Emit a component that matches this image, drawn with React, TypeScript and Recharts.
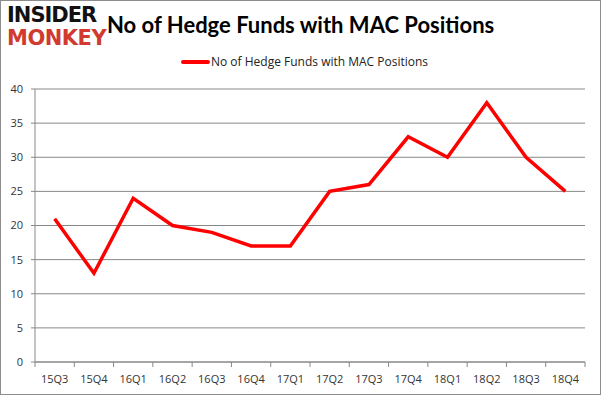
import React from "react";
import { LineChart, Line, XAxis, YAxis, CartesianGrid } from "recharts";

const categories = ["15Q3","15Q4","16Q1","16Q2","16Q3","16Q4","17Q1","17Q2","17Q3","17Q4","18Q1","18Q2","18Q3","18Q4"];
const funds = [21,13,24,20,19,17,17,25,26,33,30,38,30,25];
const yTicks = [0,5,10,15,20,25,30,35,40];
const seriesName = "No of Hedge Funds with MAC Positions";
const title = "No of Hedge Funds with MAC Positions";

const data = categories.map((c, i) => ({ q: c, v: funds[i] }));

const W = 601, H = 395;
const M = { top: 89, right: 16, bottom: 8, left: 5 };
const YW = 30;
const plotW = W - M.left - M.right - YW;
const step = plotW / categories.length;

const XTick = (props: any) => {
  const { x, y, payload, index } = props;
  const top = y - 13;
  return (
    <g>
      <line x1={x - step / 2} y1={top} x2={x - step / 2} y2={top + 5} stroke="#888" />
      {index === categories.length - 1 && (
        <line x1={x + step / 2} y1={top} x2={x + step / 2} y2={top + 5} stroke="#888" />
      )}
      <text x={x} y={y} dy="0.71em" textAnchor="middle" fontSize={11} fill="#333">{payload.value}</text>
    </g>
  );
};

export default function App() {
  return (
    <div style={{ position: "absolute", left: 0, top: 0, width: W, height: H, background: "#fff", overflow: "hidden", fontFamily: "'Open Sans', sans-serif" }}>
      <div style={{ position: "absolute", left: 0, top: 0, width: W - 2, height: H - 2, border: "1px solid #8c8c8c" }} />
      <div style={{ position: "absolute", left: 7, top: 4, fontFamily: "'DejaVu Sans', sans-serif", fontWeight: 900, fontSize: 21, lineHeight: "22px", letterSpacing: -1, color: "#111" }}>INSIDER</div>
      <div style={{ position: "absolute", left: 7, top: 27, fontFamily: "'DejaVu Sans', sans-serif", fontWeight: 900, fontSize: 21, lineHeight: "22px", letterSpacing: -0.5, color: "#d13a2e" }}>MONKEY</div>
      <div style={{ position: "absolute", left: 107, top: 10, fontFamily: "Lato, sans-serif", fontWeight: 700, fontSize: 22, lineHeight: "30px", color: "#000", whiteSpace: "nowrap" }}>{title}</div>
      <div style={{ position: "absolute", left: 181, top: 54, display: "flex", alignItems: "center", whiteSpace: "nowrap" }}>
        <div style={{ width: 29, height: 4, background: "#ff0000", borderRadius: 2 }} />
        <div style={{ fontSize: 12, color: "#222", lineHeight: "16px", marginLeft: 1 }}>{seriesName}</div>
      </div>
      <LineChart width={W} height={H} data={data} margin={M} style={{ position: "absolute", left: 0, top: 0 }}>
        <CartesianGrid vertical={false} stroke="#888" strokeWidth={1} />
        <XAxis dataKey="q" height={25} tick={<XTick />} tickLine={false} axisLine={{ stroke: "#888" }} tickSize={5} tickMargin={8} interval={0} padding={{ left: step / 2, right: step / 2 }} />
        <YAxis width={YW} domain={[0, 40]} ticks={yTicks} tick={{ fontSize: 11, fill: "#333" }} tickLine={{ stroke: "#888" }} axisLine={{ stroke: "#888" }} tickSize={4} tickMargin={8} interval={0} />
        <Line type="linear" dataKey="v" name={seriesName} stroke="#ff0000" strokeWidth={3.5} dot={false} isAnimationActive={false} />
      </LineChart>
    </div>
  );
}
